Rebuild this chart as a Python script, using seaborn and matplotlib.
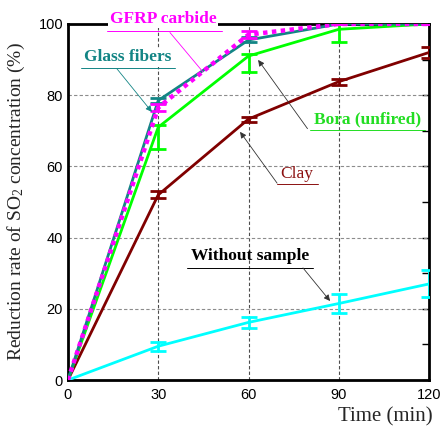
import numpy as np
import pandas as pd
import seaborn as sns
import matplotlib
matplotlib.use("Agg")
import matplotlib.pyplot as plt
from matplotlib.ticker import MultipleLocator

# ---------------- data ----------------
time_min = [0, 30, 60, 90, 120]

glass_fibers = [0, 78.5, 95.5, 100, 100]
gfrp_carbide = [0, 76.5, 97.0, 100, 100]
bora_unfired = [0, 71.0, 91.0, 98.5, 100]
bora_err_lo = [0, 6.0, 4.5, 3.7, 0]
bora_err_hi = [0, 0.6, 0.6, 1.5, 0]
clay = [0, 52.0, 73.3, 83.8, 92.0]
clay_err = [0, 1.0, 0.7, 0.8, 1.5]
without_sample = [0, 9.5, 16.2, 21.5, 27.0]
without_err = [0, 1.3, 1.5, 2.7, 3.8]
glass_err = [0, 0.7, 0.7, 0, 0]
gfrp_err = [0, 1.0, 1.0, 0, 0]

series_names = ["Without sample", "Clay", "Bora (unfired)", "Glass fibers", "GFRP carbide"]
x_ticks = [0, 30, 60, 90, 120]
y_ticks = [0, 20, 40, 60, 80, 100]

# ---------------- style ----------------
sns.set_style("white")
plt.rcParams['font.family'] = ['Liberation Sans', 'DejaVu Sans']
plt.rcParams['mathtext.fontset'] = 'custom'
plt.rcParams['mathtext.rm'] = 'Liberation Serif'
plt.rcParams['mathtext.it'] = 'Liberation Serif:italic'
plt.rcParams['mathtext.bf'] = 'Liberation Serif:bold'

fig = plt.figure(figsize=(4.41, 4.28), dpi=100)
ax = fig.add_axes([0.154, 0.112, 0.819, 0.832])

df = pd.DataFrame({
    "time": time_min * 5,
    "value": without_sample + clay + bora_unfired + glass_fibers + gfrp_carbide,
    "series": sum([[n] * len(time_min) for n in series_names], []),
})

colors = {
    "Without sample": "#00ffff",
    "Clay": "#800000",
    "Bora (unfired)": "#00ff00",
    "Glass fibers": "#138585",
    "GFRP carbide": "#ff00ff",
}
errs = {
    "Without sample": ([without_err, without_err]),
    "Clay": ([clay_err, clay_err]),
    "Bora (unfired)": ([bora_err_lo, bora_err_hi]),
    "Glass fibers": ([glass_err, glass_err]),
    "GFRP carbide": ([gfrp_err, gfrp_err]),
}

for name in series_names:
    sub = df[df["series"] == name]
    ls = (0, (1, 1)) if name == "GFRP carbide" else "-"
    lw = 3.2 if name == "GFRP carbide" else 2.0
    sns.lineplot(data=sub, x="time", y="value", ax=ax, color=colors[name],
                 linestyle=ls, linewidth=lw, legend=False, zorder=3)
    lo, hi = errs[name]
    ax.errorbar(sub["time"].values[1:], sub["value"].values[1:],
                yerr=[lo[1:], hi[1:]], fmt="none", ecolor=colors[name],
                elinewidth=2.0, capsize=6, capthick=2.0, zorder=3,
                linestyle=ls if name == "GFRP carbide" else "-")

ax.set_xlim(0, 120)
ax.set_ylim(0, 100)
ax.set_xticks(x_ticks)
ax.set_yticks(y_ticks)
ax.yaxis.set_minor_locator(MultipleLocator(10))
ax.tick_params(axis='both', which='both', direction='in', right=True,
               labelsize=10.5, colors='black')
ax.tick_params(axis='y', which='major', length=5, width=1)
ax.tick_params(axis='y', which='minor', length=5, width=1)
ax.tick_params(axis='x', which='major', length=0, pad=6)

for xv in [30, 60, 90]:
    ax.axvline(xv, color='0.3', linestyle=(0, (3, 2)), linewidth=0.8, zorder=1)
for yv in [20, 40, 60, 80]:
    ax.axhline(yv, color='0.55', linestyle=(0, (3, 2)), linewidth=0.8, zorder=1)

for s in ax.spines.values():
    s.set_visible(True)
    s.set_color('black')
    s.set_linewidth(2.0)

ax.set_xlabel("Time (min)", family='Liberation Serif', fontsize=15)
ax.xaxis.set_label_coords(1.01, -0.075)
ax.xaxis.label.set_horizontalalignment('right')
ax.set_ylabel("Reduction rate of SO$_2$ concentration (%)",
              family='Liberation Serif', fontsize=14, labelpad=8)

# ---------------- annotations ----------------
def label(text, color, tx, ty, ux0, ux1, uy, sx, sy, ex, ey, weight='bold',
          lcolor=None, arrow=True, bg=False):
    t = ax.text(tx, ty, text, color=color, fontsize=12.5, weight=weight,
                family='Liberation Serif', ha='center', va='center', zorder=6,
                clip_on=False)
    if bg:
        t.set_bbox(dict(facecolor='white', edgecolor='none', pad=1.0))
    ax.plot([ux0, ux1], [uy, uy], color=color, linewidth=0.7, zorder=7,
            clip_on=False)
    lc = lcolor if lcolor else color
    ax.annotate("", xy=(ex, ey), xytext=(sx, sy), zorder=7,
                arrowprops=dict(arrowstyle='-|>' if arrow else '-', color=lc,
                                linewidth=0.6, mutation_scale=9,
                                shrinkA=0, shrinkB=0))

label("GFRP carbide", "#ff00ff", 31.6, 101.4, 13.0, 51.2, 97.9,
      33.9, 97.6, 44.9, 86.5, arrow=False, bg=True)
label("Glass fibers", "#138585", 19.9, 90.6, 4.3, 35.6, 87.6,
      16.3, 87.4, 27.9, 75.3, bg=True)
label("Bora (unfired)", "#22dd22", 99.4, 73.2, 80.4, 118.7, 70.2,
      79.6, 70.6, 63.2, 89.9, lcolor='#333333')
label("Clay", "#8b1010", 76.1, 57.8, 69.5, 83.1, 55.1,
      69.5, 55.3, 57.2, 69.7, weight='normal', lcolor='#333333')
label("Without sample", "black", 60.5, 34.8, 39.6, 81.4, 31.5,
      78.1, 31.5, 87.1, 22.2, lcolor='#333333')

fig.savefig("out.png", dpi=100)
